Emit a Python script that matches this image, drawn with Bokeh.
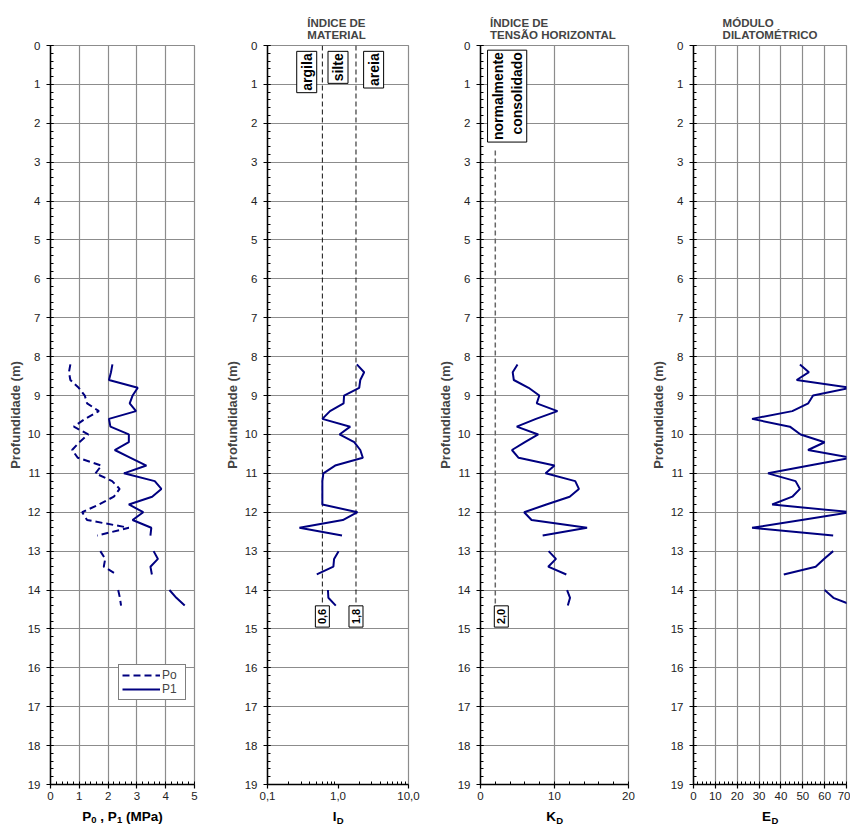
import math
from bokeh.plotting import figure
from bokeh.models import Range1d, FixedTicker, Legend, LegendItem, ColumnDataSource
from bokeh.layouts import row, column
from bokeh.core.properties import value
from bokeh.embed import file_html
from bokeh.resources import INLINE

NaN = float("nan")

# ---------------- data ----------------
depth = [8.2, 8.4, 8.6, 8.8, 9.0, 9.2, 9.4, 9.6, 9.8, 10.0, 10.2, 10.4, 10.6, 10.8,
         11.0, 11.2, 11.4, 11.6, 11.8, 12.0, 12.2, 12.4, 12.6, 12.8, 13.0, 13.2,
         13.4, 13.6, 13.8, 14.0, 14.2, 14.4]
p0 = [0.69, 0.64, 0.69, 0.98, 1.19, 1.27, 1.68, 1.20, 0.81, 1.31, 1.00, 0.75, 0.95, 1.77,
      1.56, 2.14, 2.40, 2.20, 1.68, 1.10, 1.27, 2.72, 1.62, NaN, 1.73, 1.90,
      1.85, 2.30, NaN, 2.35, 2.41, 2.45]
p1 = [2.15, 2.10, 2.03, 3.03, 2.85, 2.75, 2.97, 2.03, 2.08, 2.72, 2.72, 2.23, 2.78, 3.33,
      2.55, 3.62, 3.85, 3.53, 2.72, 3.22, 2.85, 3.50, 3.47, NaN, 3.58, 3.73,
      3.47, 3.52, NaN, 4.13, 4.37, 4.66]
id_ = [1.85, 2.35, 2.07, 2.00, 1.22, 1.20, 0.77, 0.60, 1.49, 1.05, 1.70, 2.07, 2.25, 0.91,
       0.62, 0.60, 0.60, 0.60, 0.60, 1.89, 1.17, 0.284, 1.14, NaN, 1.02, 0.88,
       0.86, 0.50, NaN, 0.72, 0.73, 0.93]
kd = [5.0, 4.35, 4.5, 6.5, 7.95, 7.6, 10.4, 7.5, 4.9, 7.8, 6.0, 4.25, 5.15, 10.0,
      8.8, 12.8, 13.3, 12.05, 8.9, 5.9, 6.9, 14.4, 8.4, NaN, 9.2, 10.2,
      9.15, 11.6, NaN, 11.7, 12.1, 11.8]
ed = [48.7, 52.8, 47.2, 72.0, 54.7, 52.5, 45.2, 26.8, 44.1, 49.0, 60.0, 52.4, 72.0, 53.0,
      34.1, 46.7, 48.7, 45.2, 36.0, 72.0, 49.5, 26.8, 63.9, NaN, 63.9, 59.7,
      55.9, 41.3, NaN, 60.0, 64.0, 73.0]

depth_ticks = list(range(0, 20))
p_ticks = [0, 1, 2, 3, 4, 5]
id_ticks = [0.1, 1.0, 10.0]
id_tick_labels = ["0,1", "1,0", "10,0"]
kd_ticks = [0, 10, 20]
ed_ticks = [0, 10, 20, 30, 40, 50, 60, 70]

id_limits = [0.6, 1.8]
id_limit_labels = ["0,6", "1,8"]
kd_limits = [2.0]
kd_limit_labels = ["2,0"]
soil_classes = ["argila", "silte", "areia"]
soil_class_x = [0.36, 1.0, 3.2]
kd_zone = ["normalmente\nconsolidado"]

panel_titles = ["", "ÍNDICE  DE\nMATERIAL", "ÍNDICE  DE\nTENSÃO  HORIZONTAL", "MÓDULO\nDILATOMÉTRICO"]
# axis title of panel 1 as (text, is_subscript, advance in em incl. following space)
x_title_p = [("P", False), ("0", True), (", P", False), ("1", True), ("(MPa)", False)]
x_title_main = ["I", "K", "E"]
x_title_sub = ["D", "D", "D"]

# ---------------- styling / layout ----------------
FONT = "Liberation Sans"
NAVY = "#000080"
GRID = "#8c8c8c"
H = 806            # figure height
STRIP_H = 20       # strip below for the axis titles
LB = 50            # left border of each panel
FIG_W = [217, 213, 213, 207]
FRAME_W = [144, 141, 148, 153]
minor_depth = [i * 0.2 for i in range(0, 96)]


def make_fig(width, frame_w, x_range, x_type="linear", title=""):
    p = figure(width=width, height=H, x_range=x_range, y_range=Range1d(19, 0),
               x_axis_type=x_type, output_backend="svg", toolbar_location=None,
               min_border_left=LB, min_border_right=width - LB - frame_w,
               min_border_top=45, min_border_bottom=H - 45 - 739)
    p.background_fill_color = "white"
    p.border_fill_color = "white"
    p.outline_line_color = GRID
    p.outline_line_width = 1.2
    p.title.text = title
    p.title.align = "center"
    p.title.text_font = FONT
    p.title.text_font_size = "11.5px"
    p.title.text_font_style = "bold"
    p.title.standoff = 10
    ya = p.yaxis[0]
    ya.ticker = FixedTicker(ticks=depth_ticks, minor_ticks=minor_depth)
    ya.axis_label = "Profundidade (m)"
    ya.axis_label_text_font = FONT
    ya.axis_label_text_font_size = "13px"
    ya.axis_label_text_font_style = "bold"
    ya.axis_label_standoff = 2
    ya.major_label_standoff = 6
    ya.major_tick_out = 4
    ya.major_tick_in = 3
    ya.minor_tick_in = 3
    ya.minor_tick_out = 0
    xa = p.xaxis[0]
    xa.major_tick_out = 4
    xa.major_tick_in = 0
    xa.minor_tick_in = 3
    xa.minor_tick_out = 0
    xa.major_label_standoff = 3
    for ax in (xa, ya):
        ax.axis_line_color = "black"
        ax.axis_line_width = 1.5
        ax.major_tick_line_color = "black"
        ax.major_tick_line_width = 1.2
        ax.minor_tick_line_color = "black"
        ax.major_label_text_font = FONT
        ax.major_label_text_font_size = "11.5px"
        ax.major_label_text_color = "#222222"
    p.ygrid.ticker = FixedTicker(ticks=depth_ticks)
    p.ygrid.grid_line_color = GRID
    p.ygrid.grid_line_width = 1.2
    p.xgrid.grid_line_color = GRID
    p.xgrid.grid_line_width = 1.2
    return p


def box_text(p, src, xcol, y, tcol, size, align, x_offset=0, pad=2):
    p.text(x=xcol, y=y, text=tcol, source=src, angle=math.pi / 2, x_offset=x_offset,
           text_align=align, text_baseline="middle", text_font=value(FONT),
           text_font_size=size, text_font_style="bold", text_color="black",
           background_fill_color="white", border_line_color="black",
           border_line_width=1, padding=pad)


src = ColumnDataSource(dict(depth=depth, p0=p0, p1=p1, id=id_, kd=kd, ed=ed))

# ---------- panel 1: P0, P1 ----------
f1 = make_fig(FIG_W[0], FRAME_W[0], Range1d(0, 5), title=panel_titles[0])
f1.xaxis[0].ticker = FixedTicker(ticks=p_ticks, minor_ticks=[i * 0.2 for i in range(26)])
f1.xgrid.ticker = FixedTicker(ticks=p_ticks)
r0 = f1.line("p0", "depth", source=src, line_color=NAVY, line_width=2, line_dash="7 4")
r1 = f1.line("p1", "depth", source=src, line_color=NAVY, line_width=2)
leg = Legend(items=[LegendItem(label="Po", renderers=[r0]), LegendItem(label="P1", renderers=[r1])],
             location=(68, 84))
leg.border_line_color = "black"
leg.border_line_width = 1
leg.background_fill_color = "white"
leg.background_fill_alpha = 1
leg.label_text_font = FONT
leg.label_text_font_size = "12px"
leg.glyph_width = 38
leg.glyph_height = 12
leg.label_height = 12
leg.label_standoff = 2
leg.padding = 3
leg.spacing = 0
leg.margin = 0
f1.add_layout(leg, "center")

# ---------- panel 2: ID ----------
f2 = make_fig(FIG_W[1], FRAME_W[1], Range1d(0.1, 10), x_type="log", title=panel_titles[1])
f2.xaxis[0].ticker = FixedTicker(ticks=id_ticks,
                                 minor_ticks=[m * 10 ** e for e in (-1, 0) for m in range(2, 10)])
f2.xaxis[0].major_label_overrides = {t: s for t, s in zip(id_ticks, id_tick_labels)}
f2.xgrid.grid_line_color = None
lim_src2 = ColumnDataSource(dict(x=id_limits, lab=id_limit_labels))
f2.segment(x0="x", y0=0, x1="x", y1=14.37, source=lim_src2, line_color="#111111",
           line_width=1, line_dash="5 3")
f2.line("id", "depth", source=src, line_color=NAVY, line_width=2)
box_text(f2, lim_src2, "x", 14.68, "lab", "11px", "center", pad=3)
cls_src = ColumnDataSource(dict(x=soil_class_x, t=soil_classes))
box_text(f2, cls_src, "x", 0.15, "t", "14px", "right")

# ---------- panel 3: KD ----------
f3 = make_fig(FIG_W[2], FRAME_W[2], Range1d(0, 20), title=panel_titles[2])
f3.xaxis[0].ticker = FixedTicker(ticks=kd_ticks, minor_ticks=list(range(0, 21, 2)))
f3.xgrid.ticker = FixedTicker(ticks=kd_ticks)
lim_src3 = ColumnDataSource(dict(x=kd_limits, lab=kd_limit_labels))
f3.segment(x0="x", y0=2.7, x1="x", y1=14.37, source=lim_src3, line_color="#666666",
           line_width=1.5, line_dash="5 3")
f3.line("kd", "depth", source=src, line_color=NAVY, line_width=2)
box_text(f3, lim_src3, "x", 14.68, "lab", "11px", "center", x_offset=6, pad=3)
zone_src = ColumnDataSource(dict(x=[3.6], t=kd_zone))
box_text(f3, zone_src, "x", 0.12, "t", "14px", "right")

# ---------- panel 4: ED ----------
f4 = make_fig(FIG_W[3], FRAME_W[3], Range1d(0, 70), title=panel_titles[3])
f4.xaxis[0].ticker = FixedTicker(ticks=ed_ticks, minor_ticks=list(range(0, 71, 2)))
f4.xgrid.ticker = FixedTicker(ticks=ed_ticks)
f4.line("ed", "depth", source=src, line_color=NAVY, line_width=2)

# ---------- strip with the x-axis titles (pixel coordinates) ----------
TOTAL_W = sum(FIG_W)
strip = figure(width=TOTAL_W, height=STRIP_H, x_range=Range1d(0, TOTAL_W),
               y_range=Range1d(STRIP_H, 0), output_backend="svg", toolbar_location=None,
               x_axis_location=None, y_axis_location=None, title=None, min_border=0)
strip.outline_line_color = None
strip.background_fill_color = "white"
strip.border_fill_color = "white"
strip.grid.grid_line_color = None

lefts = [sum(FIG_W[:i]) for i in range(4)]
centers = [lefts[i] + LB + FRAME_W[i] / 2.0 for i in range(4)]
MAIN_SZ, SUB_SZ = 13.5, 9.5
Y_MAIN, Y_SUB = 10, 13.5
# Arial / Liberation Sans bold advance widths (em)
em = {"I": 0.278, "K": 0.722, "E": 0.667, "D": 0.722, "P": 0.667, "0": 0.556, "1": 0.556,
      ",": 0.278, " ": 0.278, "(": 0.333, ")": 0.333, "M": 0.833, "a": 0.556}


def width(txt, size):
    return sum(em[ch] for ch in txt) * size


def put(x, txt, sub):
    strip.text(x=[x], y=[Y_SUB if sub else Y_MAIN], text=[txt], text_align="left",
               text_baseline="middle", text_font=value(FONT),
               text_font_size=f"{SUB_SZ if sub else MAIN_SZ}px", text_font_style="bold",
               text_color="black")


# panel 1 title pieces, separated by spaces where the original has them
space = em[" "] * MAIN_SZ
pieces = []
for k, (txt, sub) in enumerate(x_title_p):
    w = width(txt, SUB_SZ if sub else MAIN_SZ)
    gap = space if (sub and k < len(x_title_p) - 1) else 0.0
    pieces.append((txt, sub, w, gap))
total = sum(w + g for _, _, w, g in pieces)
x = centers[0] - total / 2.0
for txt, sub, w, gap in pieces:
    put(x, txt, sub)
    x += w + gap

for i, (m, s) in enumerate(zip(x_title_main, x_title_sub)):
    c = centers[i + 1]
    wm, ws = width(m, MAIN_SZ), width(s, SUB_SZ)
    x0 = c - (wm + ws) / 2.0
    put(x0, m, False)
    put(x0 + wm + 0.4, s, True)

layout = column(row(f1, f2, f3, f4), strip)
open("out.html", "w").write(file_html(layout, INLINE))
